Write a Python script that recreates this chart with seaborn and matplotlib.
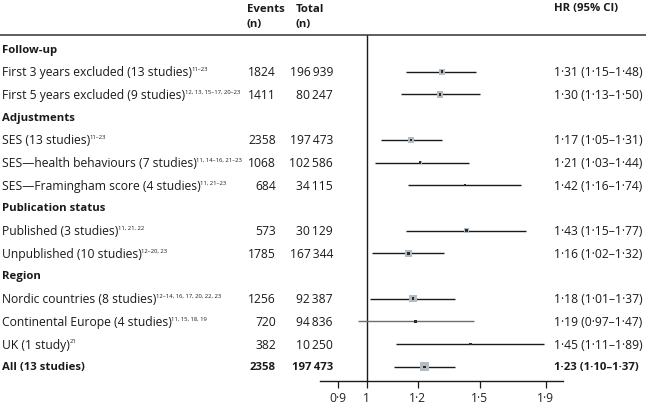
import matplotlib
matplotlib.use("Agg")
import matplotlib.pyplot as plt
import matplotlib.transforms as mtransforms
from matplotlib.lines import Line2D
import numpy as np
import pandas as pd
import seaborn as sns

# Filas del forest plot (None = sin datos, es un encabezado de sección)
labels = ['Follow-up',
          'First 3 years excluded (13 studies)', 'First 5 years excluded (9 studies)',
          'Adjustments',
          'SES (13 studies)', 'SES\u2014health behaviours (7 studies)',
          'SES\u2014Framingham score (4 studies)',
          'Publication status',
          'Published (3 studies)', 'Unpublished (10 studies)',
          'Region',
          'Nordic countries (8 studies)', 'Continental Europe (4 studies)',
          'UK (1 study)', 'All (13 studies)']
refs = ['', '11\u201323', '12, 13, 15\u201317, 20\u201323', '',
        '11\u201323', '11, 14\u201316, 21\u201323', '11, 21\u201323', '',
        '11, 21, 22', '12\u201320, 23', '',
        '12\u201314, 16, 17, 20, 22, 23', '11, 15, 18, 19', '21', '']
is_header = [True, False, False, True, False, False, False, True,
             False, False, True, False, False, False, False]
events = [None, 1824, 1411, None, 2358, 1068, 684, None, 573, 1785, None, 1256, 720, 382, 2358]
totals = [None, 196939, 80247, None, 197473, 102586, 34115, None, 30129, 167344, None,
          92387, 94836, 10250, 197473]
hr = [None, 1.31, 1.30, None, 1.17, 1.21, 1.42, None, 1.43, 1.16, None, 1.18, 1.19, 1.45, 1.23]
ci_lo = [None, 1.15, 1.13, None, 1.05, 1.03, 1.16, None, 1.15, 1.02, None, 1.01, 0.97, 1.11, 1.10]
ci_hi = [None, 1.48, 1.50, None, 1.31, 1.44, 1.74, None, 1.77, 1.32, None, 1.37, 1.47, 1.89, 1.37]
# peso relativo (tamaño del cuadrado, px)
weight = [None, 6, 6, None, 6, 3, 2, None, 5, 7, None, 7, 3, 2, 9]

xticks = [0.9, 1, 1.2, 1.5, 1.9]

sns.set_theme(style='white')
plt.rcParams['font.family'] = ['Open Sans', 'DejaVu Sans']
fs = 8.7      # texto normal
fs_b = 8.2    # texto en negrita

W, H = 646, 410
fig = plt.figure(figsize=(W / 100, H / 100), dpi=100)
top_px, bot_px = 36, 382
ax = fig.add_axes([320 / W, (H - bot_px) / H, (563 - 320) / W, (bot_px - top_px) / H])

rows = np.arange(len(labels))
df = pd.DataFrame({'row': rows, 'hr': hr, 'lo': ci_lo, 'hi': ci_hi, 'w': weight})
df = df.dropna()

# intervalos de confianza
for _, r in df.iterrows():
    col = '#6e6e6e' if r['lo'] < 1 else '#1a1a1a'
    ax.hlines(r['row'], r['lo'], r['hi'], color=col, lw=1.0, zorder=2)

sns.scatterplot(data=df, x='hr', y='row', marker='s', s=(df['w'] * 0.75) ** 2,
                color='#b3bbc3', edgecolor='none', linewidth=0, ax=ax, zorder=3, legend=False)
sns.scatterplot(data=df, x='hr', y='row', marker='s', s=3.0, color='#2b2b2b',
                edgecolor='none', linewidth=0, ax=ax, zorder=4, legend=False)

ax.set_xscale('log')
ax.set_xlim(0.845, 2.02)
step = 22.7
ax.set_ylim((bot_px - 50) / step, -(50 - top_px) / step)
ax.axvline(1, color='#1a1a1a', lw=1.0, zorder=1)
for s in ['left', 'right', 'top']:
    ax.spines[s].set_visible(False)
ax.spines['bottom'].set_color('#1a1a1a')
ax.spines['bottom'].set_linewidth(1.0)
ax.set_yticks([])
ax.set_xticks(xticks)
ax.set_xticklabels([f'{t:g}'.replace('.', '\u00b7') for t in xticks], fontsize=fs, color='#222')
ax.xaxis.set_minor_locator(matplotlib.ticker.NullLocator())
ax.tick_params(axis='x', which='major', bottom=True, length=5, width=0.9, color='#1a1a1a', pad=2)
ax.set_xlabel('')
ax.set_ylabel('')

trans = mtransforms.blended_transform_factory(fig.transFigure, ax.transData)


def fmt_n(n):
    n = int(n)
    return f'{n:,}'.replace(',', '\u2009') if n >= 10000 else str(n)


for i, lab in enumerate(labels):
    bold = is_header[i] or i == len(labels) - 1
    fw = 'bold' if bold else 'normal'
    size = fs_b if bold else fs
    t = ax.text(2 / W, i, lab, transform=trans, ha='left', va='center', fontsize=size,
                fontweight=fw, color='#1a1a1a', clip_on=False)
    if refs[i]:
        ax.annotate(refs[i], xy=(1, 1), xycoords=t, xytext=(-0.4, -0.6),
                    textcoords='offset points', ha='left', va='top', fontsize=4.2,
                    color='#1a1a1a', annotation_clip=False)
    if events[i] is not None:
        ax.text(276 / W, i, fmt_n(events[i]), transform=trans, ha='right', va='center',
                fontsize=size, fontweight=fw, color='#1a1a1a', clip_on=False)
        ax.text(333 / W, i, fmt_n(totals[i]), transform=trans, ha='right', va='center',
                fontsize=size, fontweight=fw, color='#1a1a1a', clip_on=False)
        txt = f'{hr[i]:.2f} ({ci_lo[i]:.2f}\u2013{ci_hi[i]:.2f})'.replace('.', '\u00b7')
        ax.text(554 / W, i, txt, transform=trans, ha='left', va='center',
                fontsize=size, fontweight=fw, color='#1a1a1a', clip_on=False)

# encabezados de columnas
hdr = dict(fontsize=fs_b, fontweight='bold', color='#1a1a1a', va='center', ha='left')
fig.text(247 / W, 1 - 9 / H, 'Events', **hdr)
fig.text(247 / W, 1 - 25 / H, '(n)', **hdr)
fig.text(296 / W, 1 - 9 / H, 'Total', **hdr)
fig.text(296 / W, 1 - 25 / H, '(n)', **hdr)
fig.text(554 / W, 1 - 9 / H, 'HR (95% CI)', **hdr)

fig.add_artist(Line2D([0, 1], [1 - top_px / H] * 2, transform=fig.transFigure,
                      color='#333333', lw=1.1))

fig.savefig('out.png', dpi=100, facecolor='white')
